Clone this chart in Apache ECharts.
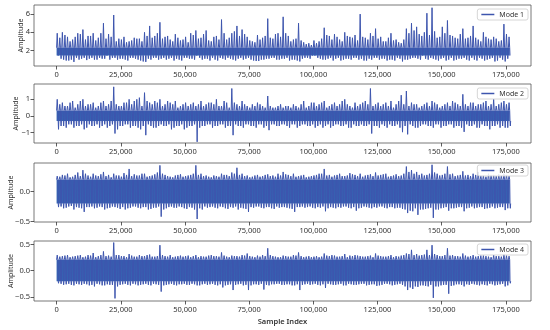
<!DOCTYPE html>
<html>
<head>
<meta charset="utf-8">
<script src="https://cdn.jsdelivr.net/npm/echarts@6/dist/echarts.min.js"></script>
<style>html,body{margin:0;padding:0;background:#fff}#c{width:550px;height:330px}</style>
</head>
<body>
<div id="c"></div>
<script>
// window starts (thousands of samples): A windows at even thousands, B windows at odd thousands
const windowAK = [];
for (let k = 0; k <= 176; k += 2) windowAK.push(k);
const windowBK = [];
for (let k = 1; k <= 177; k += 2) windowBK.push(k);
const signalEnd = 176500;
const xTicks = [0, 25000, 50000, 75000, 100000, 125000, 150000, 175000];
const seriesNames = ['Mode 1', 'Mode 2', 'Mode 3', 'Mode 4'];

// Upper / lower envelope per 1000-sample window
const mode1MaxA = [3.9,4.0,3.5,3.2,3.9,4.3,3.6,3.9,3.4,5.0, 3.8,5.9,3.3,3.5,3.0,3.4,3.3,4.0,4.7,3.6, 5.1,3.5,3.2,3.8,3.1,3.5,3.9,4.2,3.4,4.2, 3.0,3.6,5.4,3.2,3.9,4.7,4.3,3.5,3.0,3.7, 3.4,5.5,3.3,3.9,5.7,3.6,3.2,5.0,2.9,2.8, 3.1,3.0,4.5,3.6,3.8,3.2,4.0,3.5,3.7,6.0, 3.4,3.9,4.4,3.5,3.0,3.9,3.2,2.8,4.4,5.0, 4.6,3.6,6.1,6.7,3.4,4.6,5.3,3.6,3.3,4.4, 3.4,4.7,3.2,4.0,3.3,3.5,3.0,4.9,3.5];
const mode1MaxB = [3.4,3.7,3.0,3.5,3.8,3.2,3.6,3.1,3.9,3.3, 3.5,3.0,3.2,2.9,3.1,3.3,3.0,3.6,3.4,3.9, 3.3,3.6,3.0,3.4,3.2,2.9,3.7,3.3,3.8,3.1, 3.5,3.2,3.9,3.4,4.1,3.6,3.8,3.1,2.9,3.2, 3.6,3.4,3.8,3.5,3.9,3.0,3.3,3.1,2.7,2.6, 2.8,3.3,3.7,3.2,3.5,3.0,3.6,3.4,3.1,3.5, 3.2,3.6,3.3,3.0,3.4,3.1,2.9,3.2,3.9,4.2, 3.8,4.0,3.7,4.1,3.5,3.9,3.7,3.4,3.8,3.3, 3.6,3.4,3.0,3.5,3.2,3.3,3.1,3.8,3.0];
const mode1MinA = [1.3,1.0,0.9,0.75,1.0,1.2,1.1,1.0,1.2,1.1, 1.0,1.2,1.1,1.0,1.2,1.1,0.9,0.75,1.0,1.2, 1.1,1.0,1.2,1.1,0.9,1.2,1.1,1.3,1.0,1.1, 1.2,0.9,1.1,1.2,1.0,1.1,1.0,1.2,0.9,0.85, 1.0,1.1,1.2,1.0,1.1,0.9,1.0,0.8,1.2,1.1, 1.3,1.1,1.0,1.2,1.1,0.9,1.1,1.0,1.2,1.1, 0.9,1.0,1.2,1.1,0.9,1.0,1.2,0.8,1.0,1.2, 1.1,1.3,1.0,1.1,0.9,1.2,1.0,0.9,1.1,1.2, 0.9,1.0,1.2,0.9,1.1,0.8,1.2,0.8,1.5];
const mode1MinB = [1.1,0.9,1.0,1.2,1.1,0.95,1.2,1.0,1.1,1.3, 1.2,1.0,1.1,0.9,1.2,1.0,0.8,1.1,1.2,1.0, 1.2,1.1,0.9,1.0,1.2,1.1,1.0,1.2,1.1,0.9, 1.0,1.2,1.0,1.1,0.9,1.2,1.1,1.0,0.85,1.0, 1.1,1.2,1.0,1.1,1.2,1.0,0.9,1.1,1.2,1.3, 1.2,1.0,1.1,0.9,1.2,1.0,1.1,1.2,1.0,0.9, 1.1,1.2,1.0,1.1,1.0,0.9,1.1,1.0,1.1,1.2, 1.0,1.1,1.2,1.0,1.1,0.9,1.2,1.0,1.1,1.0, 1.2,0.9,1.1,1.0,1.2,0.9,1.0,1.1,1.4];
const mode1Core = [1.45, 2.3];

const mode2MaxA = [1.0,0.8,0.6,0.9,0.7,1.0,0.7,0.8,0.6,0.9, 0.7,1.75,0.6,0.8,1.0,0.9,1.1,1.4,0.8,0.9, 1.0,0.7,0.8,0.9,0.6,0.8,0.7,0.6,0.9,0.7, 0.8,1.0,0.6,0.8,1.65,0.7,0.9,0.6,0.7,0.8, 0.6,1.2,0.5,0.6,0.5,0.6,0.7,0.5,0.9,0.6, 0.8,0.7,0.9,0.6,0.8,0.7,1.0,0.6,0.8,0.7, 0.9,1.65,0.7,0.6,0.8,0.9,0.7,1.25,1.5,0.8, 0.7,0.6,0.8,0.9,0.7,0.6,0.8,0.9,0.7,1.3, 0.6,0.8,0.7,0.8,0.6,1.0,0.7,0.9,0.8];
const mode2MaxB = [0.7,0.6,0.8,0.5,0.9,0.6,0.7,0.5,0.8,0.6, 0.9,0.7,0.6,0.8,0.7,1.0,0.6,0.9,0.7,0.8, 0.6,0.9,0.7,0.5,0.7,0.6,0.8,0.7,0.6,0.8, 0.7,0.6,0.9,0.5,0.8,0.6,0.7,0.5,0.6,0.7, 0.5,0.6,0.5,0.7,0.6,0.5,0.6,0.7,0.5,0.8, 0.6,0.8,0.5,0.7,0.6,0.9,0.7,0.5,0.6,0.8, 0.7,0.6,0.8,0.7,0.6,0.5,0.9,0.7,0.6,0.7, 0.5,0.7,0.6,0.8,0.5,0.7,0.6,0.8,0.6,0.7, 0.8,0.6,0.7,0.9,0.7,0.6,0.8,0.7,0.6];
const mode2MinA = [-0.8,-0.6,-0.5,-0.7,-0.6,-0.8,-0.5,-0.6,-0.7,-0.5, -0.6,-1.05,-0.6,-0.5,-0.7,-0.6,-0.8,-1.15,-0.6,-0.7, -0.5,-0.6,-0.8,-0.6,-0.5,-0.7,-0.6,-1.55,-0.6,-0.5, -0.7,-0.6,-0.5,-0.6,-1.15,-0.6,-0.7,-0.5,-0.6,-0.5, -0.7,-0.85,-0.5,-0.6,-0.5,-0.7,-0.5,-0.6,-0.5,-0.6, -0.7,-0.5,-0.6,-0.7,-0.5,-0.6,-0.5,-0.7,-0.6,-0.5, -0.6,-1.05,-0.6,-0.5,-0.7,-0.6,-0.5,-0.97,-1.1,-0.6, -0.7,-0.5,-0.6,-0.7,-0.5,-0.6,-0.5,-0.7,-0.6,-0.95, -0.6,-0.5,-0.7,-0.6,-0.8,-0.6,-0.7,-0.7,-0.6];
const mode2MinB = [-0.6,-0.7,-0.5,-0.6,-0.5,-0.7,-0.6,-0.5,-0.6,-0.7, -0.5,-0.8,-0.6,-0.5,-0.6,-0.7,-0.6,-0.5,-0.7,-0.6, -0.6,-0.5,-0.7,-0.6,-0.8,-0.6,-0.5,-0.7,-0.6,-0.5, -0.6,-0.5,-0.7,-0.6,-0.5,-0.6,-0.5,-0.6,-0.7,-0.5, -0.6,-0.5,-0.6,-0.5,-0.6,-0.5,-0.7,-0.5,-0.6,-0.5, -0.6,-0.7,-0.5,-0.6,-0.5,-0.6,-0.7,-0.5,-0.6,-0.6, -0.5,-0.6,-0.7,-0.6,-0.5,-0.6,-0.7,-0.6,-0.5,-0.7, -0.6,-0.5,-0.6,-0.5,-0.7,-0.6,-0.5,-0.6,-0.7,-0.5, -0.6,-0.7,-0.5,-0.6,-0.6,-0.5,-0.6,-0.7,-0.5];
const mode2Core = [-0.3, 0.32];

const mode3MaxA = [0.26,0.28,0.3,0.25,0.32,0.36,0.27,0.3,0.26,0.33, 0.28,0.3,0.27,0.31,0.38,0.29,0.27,0.3,0.26,0.29, 0.44,0.28,0.25,0.27,0.29,0.26,0.28,0.44,0.3,0.27, 0.24,0.26,0.3,0.28,0.32,0.4,0.3,0.27,0.25,0.28, 0.26,0.29,0.27,0.3,0.33,0.28,0.3,0.26,0.28,0.25, 0.27,0.3,0.38,0.28,0.27,0.3,0.26,0.31,0.28,0.3, 0.27,0.29,0.32,0.28,0.3,0.26,0.29,0.27,0.42,0.36, 0.33,0.3,0.28,0.45,0.3,0.28,0.42,0.3,0.27,0.34, 0.28,0.3,0.33,0.27,0.3,0.28,0.29,0.3,0.26];
const mode3MaxB = [0.25,0.27,0.24,0.28,0.26,0.3,0.25,0.27,0.29,0.26, 0.24,0.27,0.25,0.28,0.26,0.27,0.3,0.25,0.27,0.32, 0.3,0.26,0.24,0.28,0.25,0.27,0.3,0.28,0.26,0.25, 0.27,0.25,0.28,0.26,0.3,0.28,0.26,0.24,0.27,0.25, 0.28,0.26,0.25,0.27,0.29,0.26,0.25,0.27,0.24,0.26, 0.28,0.3,0.27,0.25,0.28,0.26,0.27,0.29,0.26,0.25, 0.28,0.26,0.27,0.29,0.25,0.27,0.26,0.3,0.33,0.3, 0.28,0.27,0.3,0.32,0.27,0.3,0.29,0.26,0.28,0.27, 0.26,0.28,0.27,0.25,0.28,0.26,0.27,0.28,0.25];
const mode3MinA = [-0.26,-0.28,-0.25,-0.3,-0.27,-0.34,-0.26,-0.28,-0.25,-0.3, -0.27,-0.26,-0.29,-0.3,-0.27,-0.25,-0.28,-0.26,-0.29,-0.27, -0.42,-0.28,-0.25,-0.27,-0.26,-0.29,-0.27,-0.46,-0.3,-0.27, -0.25,-0.28,-0.26,-0.29,-0.27,-0.3,-0.28,-0.34,-0.27,-0.25, -0.28,-0.26,-0.29,-0.27,-0.26,-0.28,-0.34,-0.26,-0.27,-0.25, -0.28,-0.27,-0.33,-0.26,-0.28,-0.27,-0.25,-0.28,-0.32,-0.27, -0.26,-0.28,-0.27,-0.25,-0.28,-0.26,-0.27,-0.29,-0.36,-0.33, -0.39,-0.3,-0.28,-0.44,-0.3,-0.27,-0.32,-0.28,-0.26,-0.33, -0.27,-0.28,-0.26,-0.29,-0.27,-0.28,-0.26,-0.31,-0.28];
const mode3MinB = [-0.25,-0.27,-0.24,-0.26,-0.28,-0.26,-0.25,-0.27,-0.26,-0.28, -0.25,-0.27,-0.26,-0.28,-0.25,-0.27,-0.26,-0.3,-0.27,-0.25, -0.3,-0.26,-0.27,-0.25,-0.28,-0.26,-0.3,-0.28,-0.25,-0.26, -0.27,-0.25,-0.28,-0.26,-0.25,-0.27,-0.29,-0.26,-0.25,-0.27, -0.26,-0.28,-0.25,-0.26,-0.27,-0.29,-0.26,-0.25,-0.26,-0.27, -0.26,-0.25,-0.28,-0.27,-0.26,-0.25,-0.27,-0.26,-0.28,-0.25, -0.27,-0.26,-0.25,-0.27,-0.26,-0.28,-0.27,-0.3,-0.32,-0.28, -0.3,-0.29,-0.27,-0.3,-0.28,-0.26,-0.28,-0.27,-0.26,-0.28, -0.25,-0.27,-0.26,-0.28,-0.25,-0.27,-0.26,-0.28,-0.25];
const mode3Core = [-0.2, 0.2];

const mode4MaxA = [0.3,0.28,0.3,0.27,0.29,0.26,0.3,0.34,0.28,0.37, 0.29,0.54,0.3,0.28,0.32,0.27,0.3,0.28,0.31,0.27, 0.49,0.28,0.3,0.27,0.29,0.28,0.26,0.3,0.28,0.27, 0.3,0.28,0.35,0.27,0.29,0.28,0.3,0.33,0.27,0.29, 0.3,0.43,0.28,0.26,0.29,0.27,0.3,0.35,0.26,0.28, 0.27,0.26,0.33,0.28,0.29,0.27,0.32,0.29,0.3,0.28, 0.27,0.29,0.33,0.28,0.27,0.3,0.28,0.29,0.33,0.4, 0.32,0.3,0.4,0.49,0.3,0.28,0.43,0.3,0.28,0.33, 0.27,0.3,0.28,0.29,0.27,0.3,0.28,0.32,0.28];
const mode4MaxB = [0.27,0.29,0.26,0.28,0.3,0.27,0.29,0.26,0.3,0.28, 0.27,0.3,0.28,0.26,0.29,0.27,0.28,0.3,0.27,0.28, 0.3,0.27,0.26,0.28,0.27,0.29,0.28,0.26,0.27,0.29, 0.28,0.27,0.29,0.26,0.28,0.27,0.29,0.28,0.26,0.27, 0.28,0.3,0.27,0.26,0.28,0.27,0.29,0.28,0.27,0.26, 0.28,0.27,0.29,0.3,0.27,0.28,0.26,0.28,0.29,0.27, 0.28,0.26,0.29,0.27,0.28,0.26,0.27,0.3,0.32,0.3, 0.29,0.31,0.3,0.32,0.28,0.3,0.29,0.28,0.27,0.29, 0.28,0.27,0.29,0.28,0.26,0.28,0.27,0.29,0.27];
const mode4MinA = [-0.24,-0.27,-0.25,-0.28,-0.26,-0.25,-0.28,-0.3,-0.26,-0.28, -0.27,-0.53,-0.27,-0.25,-0.28,-0.26,-0.27,-0.25,-0.28,-0.26, -0.4,-0.27,-0.25,-0.28,-0.26,-0.27,-0.25,-0.28,-0.26,-0.27, -0.25,-0.28,-0.32,-0.27,-0.37,-0.26,-0.28,-0.37,-0.26,-0.27, -0.36,-0.28,-0.26,-0.25,-0.27,-0.26,-0.28,-0.37,-0.26,-0.27, -0.25,-0.28,-0.33,-0.26,-0.27,-0.25,-0.28,-0.26,-0.27,-0.25, -0.28,-0.26,-0.29,-0.27,-0.25,-0.28,-0.26,-0.27,-0.37,-0.35, -0.31,-0.28,-0.3,-0.52,-0.3,-0.27,-0.44,-0.28,-0.26,-0.3, -0.27,-0.26,-0.28,-0.27,-0.25,-0.28,-0.26,-0.3,-0.24];
const mode4MinB = [-0.25,-0.26,-0.27,-0.25,-0.27,-0.26,-0.27,-0.25,-0.28,-0.26, -0.27,-0.3,-0.26,-0.27,-0.25,-0.28,-0.26,-0.27,-0.25,-0.27, -0.28,-0.26,-0.27,-0.26,-0.25,-0.27,-0.26,-0.28,-0.25,-0.26, -0.27,-0.26,-0.28,-0.26,-0.27,-0.25,-0.27,-0.28,-0.26,-0.25, -0.27,-0.26,-0.25,-0.27,-0.26,-0.28,-0.26,-0.27,-0.25,-0.26, -0.27,-0.26,-0.25,-0.27,-0.26,-0.28,-0.25,-0.27,-0.26,-0.25, -0.27,-0.26,-0.28,-0.25,-0.26,-0.27,-0.25,-0.3,-0.32,-0.3, -0.28,-0.29,-0.27,-0.3,-0.28,-0.27,-0.29,-0.26,-0.27,-0.26, -0.25,-0.27,-0.26,-0.28,-0.26,-0.27,-0.25,-0.28,-0.24];
const mode4Core = [-0.2, 0.21];

const yTicks1 = [2, 4, 6];
const yTicks2 = [-1, 0, 1];
const yTicks3 = [-0.5, 0.0];
const yTicks4 = [-0.5, 0.0, 0.5];
const yRanges = [[0.3, 7.0], [-1.62, 1.92], [-0.51, 0.48], [-0.58, 0.57]];
const xRange = [-8800, 184800];

// Merge A/B windows in sample order, then draw each 1000-sample window as:
// core -> upward excursion to the window max -> core -> downward excursion to the window min -> core
function envelopeLine(maxA, maxB, minA, minB, core) {
  const wins = [];
  windowAK.forEach((k, i) => wins.push([k, maxA[i], minA[i]]));
  windowBK.forEach((k, i) => { if (k <= 176) wins.push([k, maxB[i], minB[i]]); });
  wins.sort((a, b) => a[0] - b[0]);
  const lo = core[0], hi = core[1];
  const pts = [];
  wins.forEach(([k, mx, mn]) => {
    const x = k * 1000;
    pts.push([x, hi], [x + 250, mx], [x + 500, hi], [x + 625, lo], [x + 750, mn], [x + 875, lo]);
  });
  return pts;
}

const envs = [
  envelopeLine(mode1MaxA, mode1MaxB, mode1MinA, mode1MinB, mode1Core),
  envelopeLine(mode2MaxA, mode2MaxB, mode2MinA, mode2MinB, mode2Core),
  envelopeLine(mode3MaxA, mode3MaxB, mode3MinA, mode3MinB, mode3Core),
  envelopeLine(mode4MaxA, mode4MaxB, mode4MinA, mode4MinB, mode4Core)
];
const cores = [mode1Core, mode2Core, mode3Core, mode4Core];
const yTickSets = [yTicks1, yTicks2, yTicks3, yTicks4];
const yDecimals = [0, 0, 1, 1];
const gridTops = [5, 84, 163, 241];
const gridHeights = [61, 59, 59, 60];
const legendTops = [9, 88, 165, 244];
const nameGaps = [9.5, 15, 19.5, 20];
const FONT = 'Noto Sans';
const TXT = '#333';
const LINE = '#3d55ae';
const CORE = '#3566b3';

const fmtNum = (v, d) => v.toFixed(d).replace('-', '\u2212');

const option = {
  animation: false,
  backgroundColor: '#fff',
  grid: gridTops.map((t, i) => ({
    left: 34, right: 19, top: t, height: gridHeights[i],
    containLabel: false, outerBoundsMode: 'none',
    show: true, borderColor: '#555', borderWidth: 0.8, backgroundColor: 'transparent'
  })),
  xAxis: gridTops.map((t, i) => ({
    type: 'value', gridIndex: i, min: xRange[0], max: xRange[1],
    axisLine: { show: false, onZero: false },
    splitLine: { show: false },
    axisTick: { show: true, inside: false, length: 3.5, customValues: xTicks, lineStyle: { color: '#333', width: 0.8 } },
    axisLabel: {
      customValues: xTicks, margin: 5, color: TXT, fontFamily: FONT, fontSize: 7.5,
      formatter: v => v.toLocaleString('en-US')
    },
    name: i === 3 ? 'Sample Index' : '',
    nameLocation: 'middle', nameGap: 17, nameMoveOverlap: false,
    nameTextStyle: { color: TXT, fontFamily: FONT, fontSize: 7.5, fontWeight: 600 }
  })),
  yAxis: gridTops.map((t, i) => ({
    type: 'value', gridIndex: i, min: yRanges[i][0], max: yRanges[i][1],
    axisLine: { show: false, onZero: false },
    splitLine: { show: false },
    axisTick: { show: true, inside: false, length: 3.5, customValues: yTickSets[i], lineStyle: { color: '#333', width: 0.8 } },
    axisLabel: {
      customValues: yTickSets[i], margin: 4, color: TXT, fontFamily: FONT, fontSize: 7.5,
      formatter: v => fmtNum(v, yDecimals[i])
    },
    name: 'Amplitude', nameLocation: 'middle', nameRotate: 90, nameGap: nameGaps[i], nameMoveOverlap: false,
    nameTextStyle: { color: TXT, fontFamily: FONT, fontSize: 7 }
  })),
  legend: legendTops.map((t, i) => ({
    data: [{ name: seriesNames[i], icon: 'rect' }], right: 22, top: t, orient: 'horizontal',
    padding: [2, 4], itemWidth: 13, itemHeight: 1.5, itemGap: 4,
    borderColor: '#ccc', borderWidth: 0.8, borderRadius: 2, backgroundColor: 'rgba(255,255,255,0.85)',
    textStyle: { color: TXT, fontFamily: FONT, fontSize: 7 }
  })),
  series: envs.map((d, i) => ({
    name: seriesNames[i], type: 'line', xAxisIndex: i, yAxisIndex: i,
    data: d, symbol: 'none', showSymbol: false, sampling: null,
    lineStyle: { color: LINE, width: 1 },
    itemStyle: { color: LINE }, silent: true,
    markArea: {
      silent: true,
      itemStyle: { color: CORE, opacity: 1 },
      label: { show: false },
      data: [[{ xAxis: 0, yAxis: cores[i][0] }, { xAxis: signalEnd, yAxis: cores[i][1] }]]
    }
  }))
};

const chart = echarts.init(document.getElementById('c'), null, { renderer: 'canvas' });
chart.setOption(option);
</script>
</body>
</html>
